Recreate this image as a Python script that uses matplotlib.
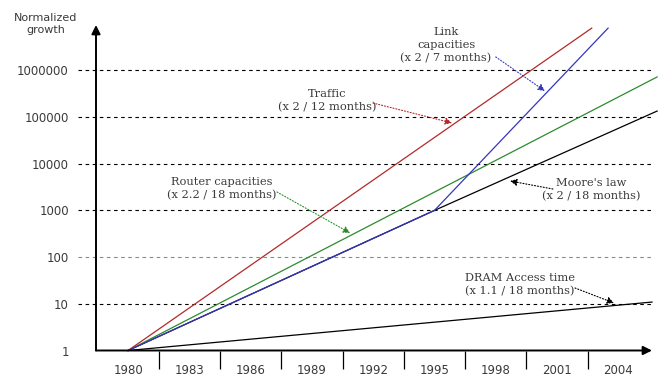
import numpy as np
import matplotlib
matplotlib.use("Agg")
import matplotlib.pyplot as plt
from matplotlib.ticker import FixedLocator, NullFormatter

# --- data ------------------------------------------------------------------
traffic_years = [1980, 2002.7]
traffic_vals = [1, 8.0e6]

link_years = [1980, 1995, 2003.5]
link_vals = [1, 1000, 8.0e6]

router_years = [1980, 2005.9]
router_vals = [1, 7.2e5]

moore_years = [1980, 1995, 2005.9]
moore_vals = [1, 1000, 1.34e5]

dram_years = [1980, 2005.65]
dram_vals = [1, 10.9]

year_ticks = [1980, 1983, 1986, 1989, 1992, 1995, 1998, 2001, 2004]
growth_ticks = [1, 10, 100, 1000, 10000, 100000, 1000000]
growth_labels = ["1", "10", "100", "1000", "10000", "100000", "1000000"]

RED = "#b22a2a"
BLUE = "#3535c0"
GREEN = "#2e8a2e"
LIGHT_GREEN = "#5fa85f"
TEXT = "#3a3a3a"

fig = plt.figure(figsize=(6.59, 3.76), dpi=100)
ax = fig.add_axes([96 / 659, 25.5 / 376, 556 / 659, 325.5 / 376])
ax.set_yscale("log")
ax.set_xlim(1978.43, 2005.65)
ax.set_ylim(1, 10 ** 6.97)

for s in ax.spines.values():
    s.set_visible(False)

# dashed reference lines, running a little left of the axis
for g in growth_ticks[1:]:
    col = LIGHT_GREEN if g == 100 else "black"
    ax.axhline(g, xmin=-0.032, xmax=1.0, color=col, lw=0.8,
               linestyle=(0, (3.2, 3.2)), clip_on=False, zorder=1)

# growth curves
ax.plot(dram_years, dram_vals, color="black", lw=0.9, clip_on=False, zorder=3)
ax.plot(moore_years, moore_vals, color="black", lw=0.9, clip_on=False, zorder=3)
ax.plot(router_years, router_vals, color=GREEN, lw=0.9, clip_on=False, zorder=3)
ax.plot(traffic_years, traffic_vals, color=RED, lw=0.9, clip_on=False, zorder=3)
ax.plot(link_years, link_vals, color=BLUE, lw=0.9, clip_on=False, zorder=4)

# axis arrows
arrow_kw = dict(arrowstyle="-|>", lw=1.4, color="black", mutation_scale=13,
                shrinkA=0, shrinkB=0)
ax.annotate("", xy=(0, 1), xytext=(0, 0), xycoords="axes fraction",
            arrowprops=arrow_kw, annotation_clip=False, zorder=5)
ax.annotate("", xy=(1, 0), xytext=(0, 0), xycoords="axes fraction",
            arrowprops=arrow_kw, annotation_clip=False, zorder=5)

# ticks
ax.yaxis.set_major_locator(FixedLocator(growth_ticks))
ax.yaxis.set_minor_locator(FixedLocator([]))
ax.set_yticklabels(growth_labels)
ax.tick_params(axis="y", which="major", length=0, pad=19.5,
               labelsize=8.5, labelcolor=TEXT)

ax.xaxis.set_major_locator(FixedLocator(year_ticks))
ax.xaxis.set_minor_locator(FixedLocator([y + 1.5 for y in year_ticks[:-1]]))
ax.xaxis.set_minor_formatter(NullFormatter())
ax.set_xticklabels([str(y) for y in year_ticks])
ax.tick_params(axis="x", which="major", length=0, pad=10,
               labelsize=8.5, labelcolor=TEXT)
ax.tick_params(axis="x", which="minor", length=13, width=0.9,
               color="black", direction="out")

fig.text(46 / 659, 1 - 24 / 376, "Normalized\ngrowth", ha="center",
         va="center", fontsize=8, color=TEXT, linespacing=1.35)

# labelled callouts: text position, arrow tail, arrow head (year, value)
callouts = [
    ("Link\ncapacities\n(x 2 / 7 months)", (1995.57, 3.48e6),
     (1998.0, 1.93e6), (2000.41, 3.6e5), BLUE),
    ("Traffic\n(x 2 / 12 months)", (1989.74, 2.26e5),
     (1991.99, 1.99e5), (1995.86, 7.45e4), RED),
    ("Router capacities\n(x 2.2 / 18 months)", (1984.6, 2944),
     (1987.29, 2478), (1990.87, 328), GREEN),
    ("Moore's law\n(x 2 / 18 months)", (2002.66, 2735),
     (2000.8, 2870), (1998.7, 4260), "black"),
    ("DRAM Access time\n(x 1.1 / 18 months)", (1999.19, 25.9),
     (2001.88, 21.8), (2003.79, 10.4), "black"),
]
for label, tpos, tail, head, col in callouts:
    ax.text(tpos[0], tpos[1], label, ha="center", va="center",
            family="DejaVu Serif", fontsize=8.2, color=TEXT,
            linespacing=1.38, zorder=6)
    ax.annotate("", xy=head, xytext=tail,
                arrowprops=dict(arrowstyle="-|>", linestyle=":", lw=0.8,
                                color=col, mutation_scale=10,
                                shrinkA=0, shrinkB=0),
                annotation_clip=False, zorder=6)

fig.savefig("out.png", dpi=100)
